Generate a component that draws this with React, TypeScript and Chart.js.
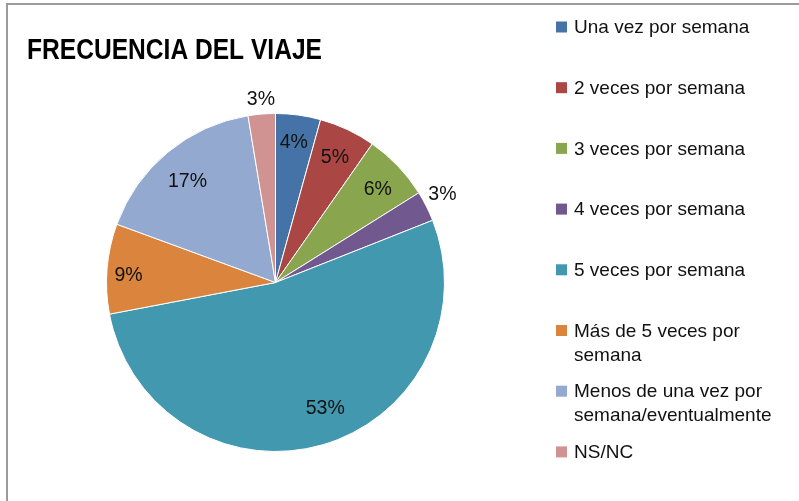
import React, { useEffect, useRef } from "react";
import { Chart, registerables } from "chart.js";

Chart.register(...registerables);

const chartTitle = "FRECUENCIA DEL VIAJE";
const categories: string[][] = [
  ["Una vez por semana"],
  ["2 veces por semana"],
  ["3 veces por semana"],
  ["4 veces por semana"],
  ["5 veces por semana"],
  ["Más de 5 veces por", "semana"],
  ["Menos de una vez por", "semana/eventualmente"],
  ["NS/NC"],
];
const values = [4.3, 5.4, 6.4, 2.9, 53.0, 8.6, 16.8, 2.6];
const valueLabels = ["4%", "5%", "6%", "3%", "53%", "9%", "17%", "3%"];
const colors = [
  "#4572A7",
  "#AA4643",
  "#89A54E",
  "#71588F",
  "#4198AF",
  "#DB843D",
  "#93A9CF",
  "#D19392",
];

// label placement style: [radius factor, angle shift in degrees]
const labelPlacement: [number, number][] = [
  [0.836, -0.3],
  [0.82, 0.2],
  [0.818, 1.3],
  [1.117, -1.0],
  [0.8, -5.4],
  [0.87, -2.1],
  [0.794, -1.4],
  [1.083, 0.1],
];

const decorPlugin = {
  id: "decor",
  beforeDraw(chart: any) {
    const ctx = chart.ctx;
    ctx.save();
    ctx.fillStyle = "#ffffff";
    ctx.fillRect(0, 0, chart.width, chart.height);
    ctx.fillStyle = "#9a9a9a";
    ctx.fillRect(6, 3, chart.width - 6, 2);
    ctx.fillRect(6, 3, 2, chart.height - 3);
    ctx.restore();
  },
  afterDatasetsDraw(chart: any) {
    const ctx = chart.ctx;
    const meta = chart.getDatasetMeta(0);
    ctx.save();
    ctx.fillStyle = "#111111";
    ctx.font = '19.5px "Liberation Sans", Arial, sans-serif';
    ctx.textAlign = "center";
    ctx.textBaseline = "middle";
    meta.data.forEach((arc: any, i: number) => {
      const p = arc.getProps(["x", "y", "startAngle", "endAngle", "outerRadius"], true);
      const [f, shift] = labelPlacement[i];
      const a = (p.startAngle + p.endAngle) / 2 + (shift * Math.PI) / 180;
      const r = p.outerRadius * f;
      ctx.fillText(valueLabels[i], p.x + r * Math.cos(a), p.y + r * Math.sin(a));
    });
    ctx.restore();
  },
  afterDraw(chart: any) {
    const ctx = chart.ctx;
    ctx.save();
    // title (condensed to match the narrow original face)
    ctx.fillStyle = "#000000";
    ctx.font = 'bold 29px "Liberation Sans", Arial, sans-serif';
    ctx.textAlign = "left";
    ctx.textBaseline = "alphabetic";
    const w = ctx.measureText(chartTitle).width;
    const sx = 295 / w;
    ctx.save();
    ctx.translate(27, 59);
    ctx.scale(sx, 1);
    ctx.fillText(chartTitle, 0, 0);
    ctx.restore();
    // legend
    ctx.font = '19px "Liberation Sans", Arial, sans-serif';
    ctx.textBaseline = "middle";
    const top = 27;
    const step = 60.7;
    categories.forEach((lines, i) => {
      const y = top + step * i;
      ctx.fillStyle = colors[i];
      ctx.fillRect(556, y - 5.5, 11, 11);
      ctx.fillStyle = "#111111";
      lines.forEach((ln, j) => {
        ctx.fillText(ln, 574, y + 1 + j * 24);
      });
    });
    ctx.restore();
  },
};

export default function App() {
  const ref = useRef<HTMLCanvasElement>(null);
  useEffect(() => {
    if (!ref.current) return;
    const chart = new Chart(ref.current, {
      type: "pie",
      data: {
        labels: categories.map((l) => l.join(" ")),
        datasets: [
          {
            data: values,
            backgroundColor: colors,
            borderColor: "#ffffff",
            borderWidth: 1,
          },
        ],
      },
      options: {
        responsive: false,
        animation: false,
        layout: {
          padding: { left: 106, right: 354, top: 113, bottom: 49 },
        },
        plugins: {
          legend: { display: false },
          title: { display: false },
          tooltip: { enabled: false },
        },
      },
      plugins: [decorPlugin],
    });
    return () => chart.destroy();
  }, []);
  return (
    <div style={{ position: "fixed", left: 0, top: 0, width: 799, height: 501, background: "#fff" }}>
      <canvas ref={ref} width={799} height={501} style={{ width: 799, height: 501, display: "block" }} />
    </div>
  );
}
